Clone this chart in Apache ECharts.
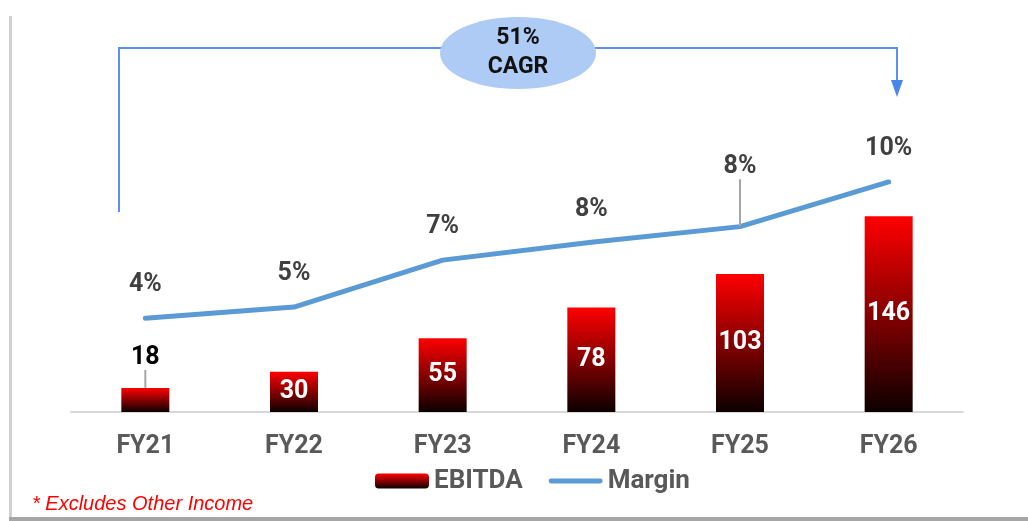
<!DOCTYPE html>
<html>
<head>
<meta charset="utf-8">
<script src="https://cdn.jsdelivr.net/npm/echarts@6/dist/echarts.min.js"></script>
<style>
  html, body { margin: 0; padding: 0; background: #fff; }
  #chart { width: 1028px; height: 521px; }
</style>
</head>
<body>
<div id="chart"></div>
<script>
// data
var years = ['FY21', 'FY22', 'FY23', 'FY24', 'FY25', 'FY26'];
var ebitda = [18, 30, 55, 78, 103, 146];
var margin = [4.2, 4.7, 6.8, 7.6, 8.3, 10.3];   // %, labels are rounded
var cagrText = '51%\nCAGR';
var footNote = '* Excludes Other Income';

var chart = echarts.init(document.getElementById('chart'));

var barGrad = new echarts.graphic.LinearGradient(0, 0, 0, 1, [
  { offset: 0, color: '#ff0000' },
  { offset: 1, color: '#0d0000' }
]);
var leader = { show: true, lineStyle: { color: '#a6a6a6', width: 2 } };

var barData = ebitda.map(function (v, i) {
  if (i === 0) {
    // first bar too small, label sits above with a leader line
    return { value: v, label: { position: 'top', distance: 5, color: '#000' }, labelLine: leader };
  }
  return v;
});

var lineData = margin.map(function (v, i) {
  if (i === 4) return { value: v, labelLine: leader };
  return v;
});

var option = {
  backgroundColor: '#fff',
  animation: false,
  textStyle: { fontFamily: 'Roboto' },
  grid: { left: 71, right: 65, top: 144, bottom: 109 },
  legend: {
    data: [
      { name: 'EBITDA' },
      { name: 'Margin', icon: 'path://M2.5,0 L53.5,0 A2.5,2.5 0 0 1 53.5,5 L2.5,5 A2.5,2.5 0 0 1 2.5,0 Z' }
    ],
    top: 463,
    left: 370,
    itemWidth: 54,
    itemHeight: 15,
    itemGap: 26,
    textStyle: { color: '#595959', fontSize: 26, fontWeight: 'bold', fontFamily: 'Roboto' }
  },
  xAxis: {
    type: 'category',
    data: years,
    axisLine: { lineStyle: { color: '#d9d9d9', width: 2 } },
    axisTick: { show: false },
    axisLabel: { color: '#595959', fontSize: 25, fontWeight: 'bold', margin: 22 }
  },
  yAxis: [
    { type: 'value', min: 0, max: 200, show: false, splitLine: { show: false } },
    { type: 'value', min: 0, max: 12, show: false, splitLine: { show: false } }
  ],
  series: [
    {
      name: 'EBITDA',
      type: 'bar',
      barWidth: 48,
      yAxisIndex: 0,
      itemStyle: { color: barGrad },
      label: {
        show: true,
        position: 'inside',
        color: '#fff',
        fontSize: 25,
        fontWeight: 'bold'
      },
      labelLine: { show: false },
      labelLayout: function (p) {
        if (p.dataIndex === 0) return { dy: -13 };
      },
      data: barData
    },
    {
      name: 'Margin',
      type: 'line',
      yAxisIndex: 1,
      symbol: 'circle',
      symbolSize: 1,
      itemStyle: { color: '#5b9bd5' },
      lineStyle: { color: '#5b9bd5', width: 5, cap: 'round', join: 'round' },
      label: {
        show: true,
        position: 'top',
        distance: 20,
        color: '#404040',
        fontSize: 25,
        fontWeight: 'bold',
        formatter: function (p) { return Math.round(p.value) + '%'; }
      },
      labelLine: { show: false },
      labelLayout: function (p) {
        if (p.dataIndex === 4) return { dy: -27 };
      },
      data: lineData
    }
  ],
  graphic: [
    // card edges
    { type: 'rect', shape: { x: 9, y: 16, width: 3, height: 503 }, style: { fill: '#d0d0d0' }, silent: true },
    { type: 'rect', shape: { x: 9, y: 517, width: 1019, height: 4 }, style: { fill: '#a6a6a6' }, silent: true },
    // CAGR bracket
    {
      type: 'polyline',
      shape: { points: [[119, 212], [119, 48], [897, 48], [897, 82]] },
      style: { stroke: '#5b8ff0', lineWidth: 2, fill: null },
      silent: true
    },
    {
      type: 'polygon',
      shape: { points: [[891, 80], [903, 80], [897, 97]] },
      style: { fill: '#4a86e8' },
      silent: true
    },
    {
      type: 'ellipse',
      shape: { cx: 518, cy: 53, rx: 78, ry: 36 },
      style: { fill: '#aecbf5' },
      silent: true
    },
    {
      type: 'text',
      x: 518, y: 53,
      style: {
        text: cagrText,
        fill: '#111',
        font: 'bold 23px Roboto',
        lineHeight: 29,
        align: 'center',
        verticalAlign: 'middle'
      },
      silent: true
    },
    {
      type: 'text',
      x: 32, y: 504,
      style: {
        text: footNote,
        fill: '#ff0000',
        font: 'italic 20px "Liberation Sans"',
        verticalAlign: 'middle'
      },
      silent: true
    }
  ]
};

chart.setOption(option);
</script>
</body>
</html>
